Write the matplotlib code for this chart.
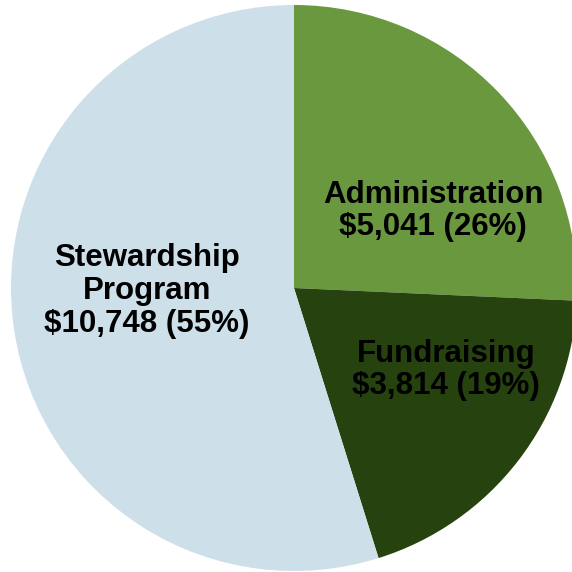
import matplotlib
matplotlib.use('Agg')
from matplotlib import pyplot as plt

# Expense breakdown
categories = ['Administration', 'Fundraising', 'Stewardship\nProgram']
amounts = [5041, 3814, 10748]
percents = [26, 19, 55]
colors = ['#6a983f', '#26420f', '#cde0ea']

fig = plt.figure(figsize=(5.72, 5.72), dpi=100)
cx, cy, r = 294, 288, 283
ax = fig.add_axes([(cx - r) / 572, (572 - cy - r) / 572, 2 * r / 572, 2 * r / 572])
wedges, _ = ax.pie(amounts, colors=colors, startangle=90, counterclock=False,
                   radius=1, wedgeprops=dict(linewidth=0))
ax.set_xlim(-1, 1)
ax.set_ylim(-1, 1)
ax.set_aspect('equal')
ax.axis('off')

# label centres, in pixels of the picture
label_pos = [(433, 211), (446, 370), (147, 291)]
for name, amt, pct, (px, py) in zip(categories, amounts, percents, label_pos):
    txt = '%s\n$%s (%d%%)' % (name, format(amt, ','), pct)
    txt = txt.replace('$', r'\$')
    fig.text(px / 572, 1 - py / 572, txt, ha='center', va='center',
             fontsize=22.5, fontweight='bold', family='Liberation Sans',
             color='black', linespacing=1.13)

fig.savefig('out.png')
